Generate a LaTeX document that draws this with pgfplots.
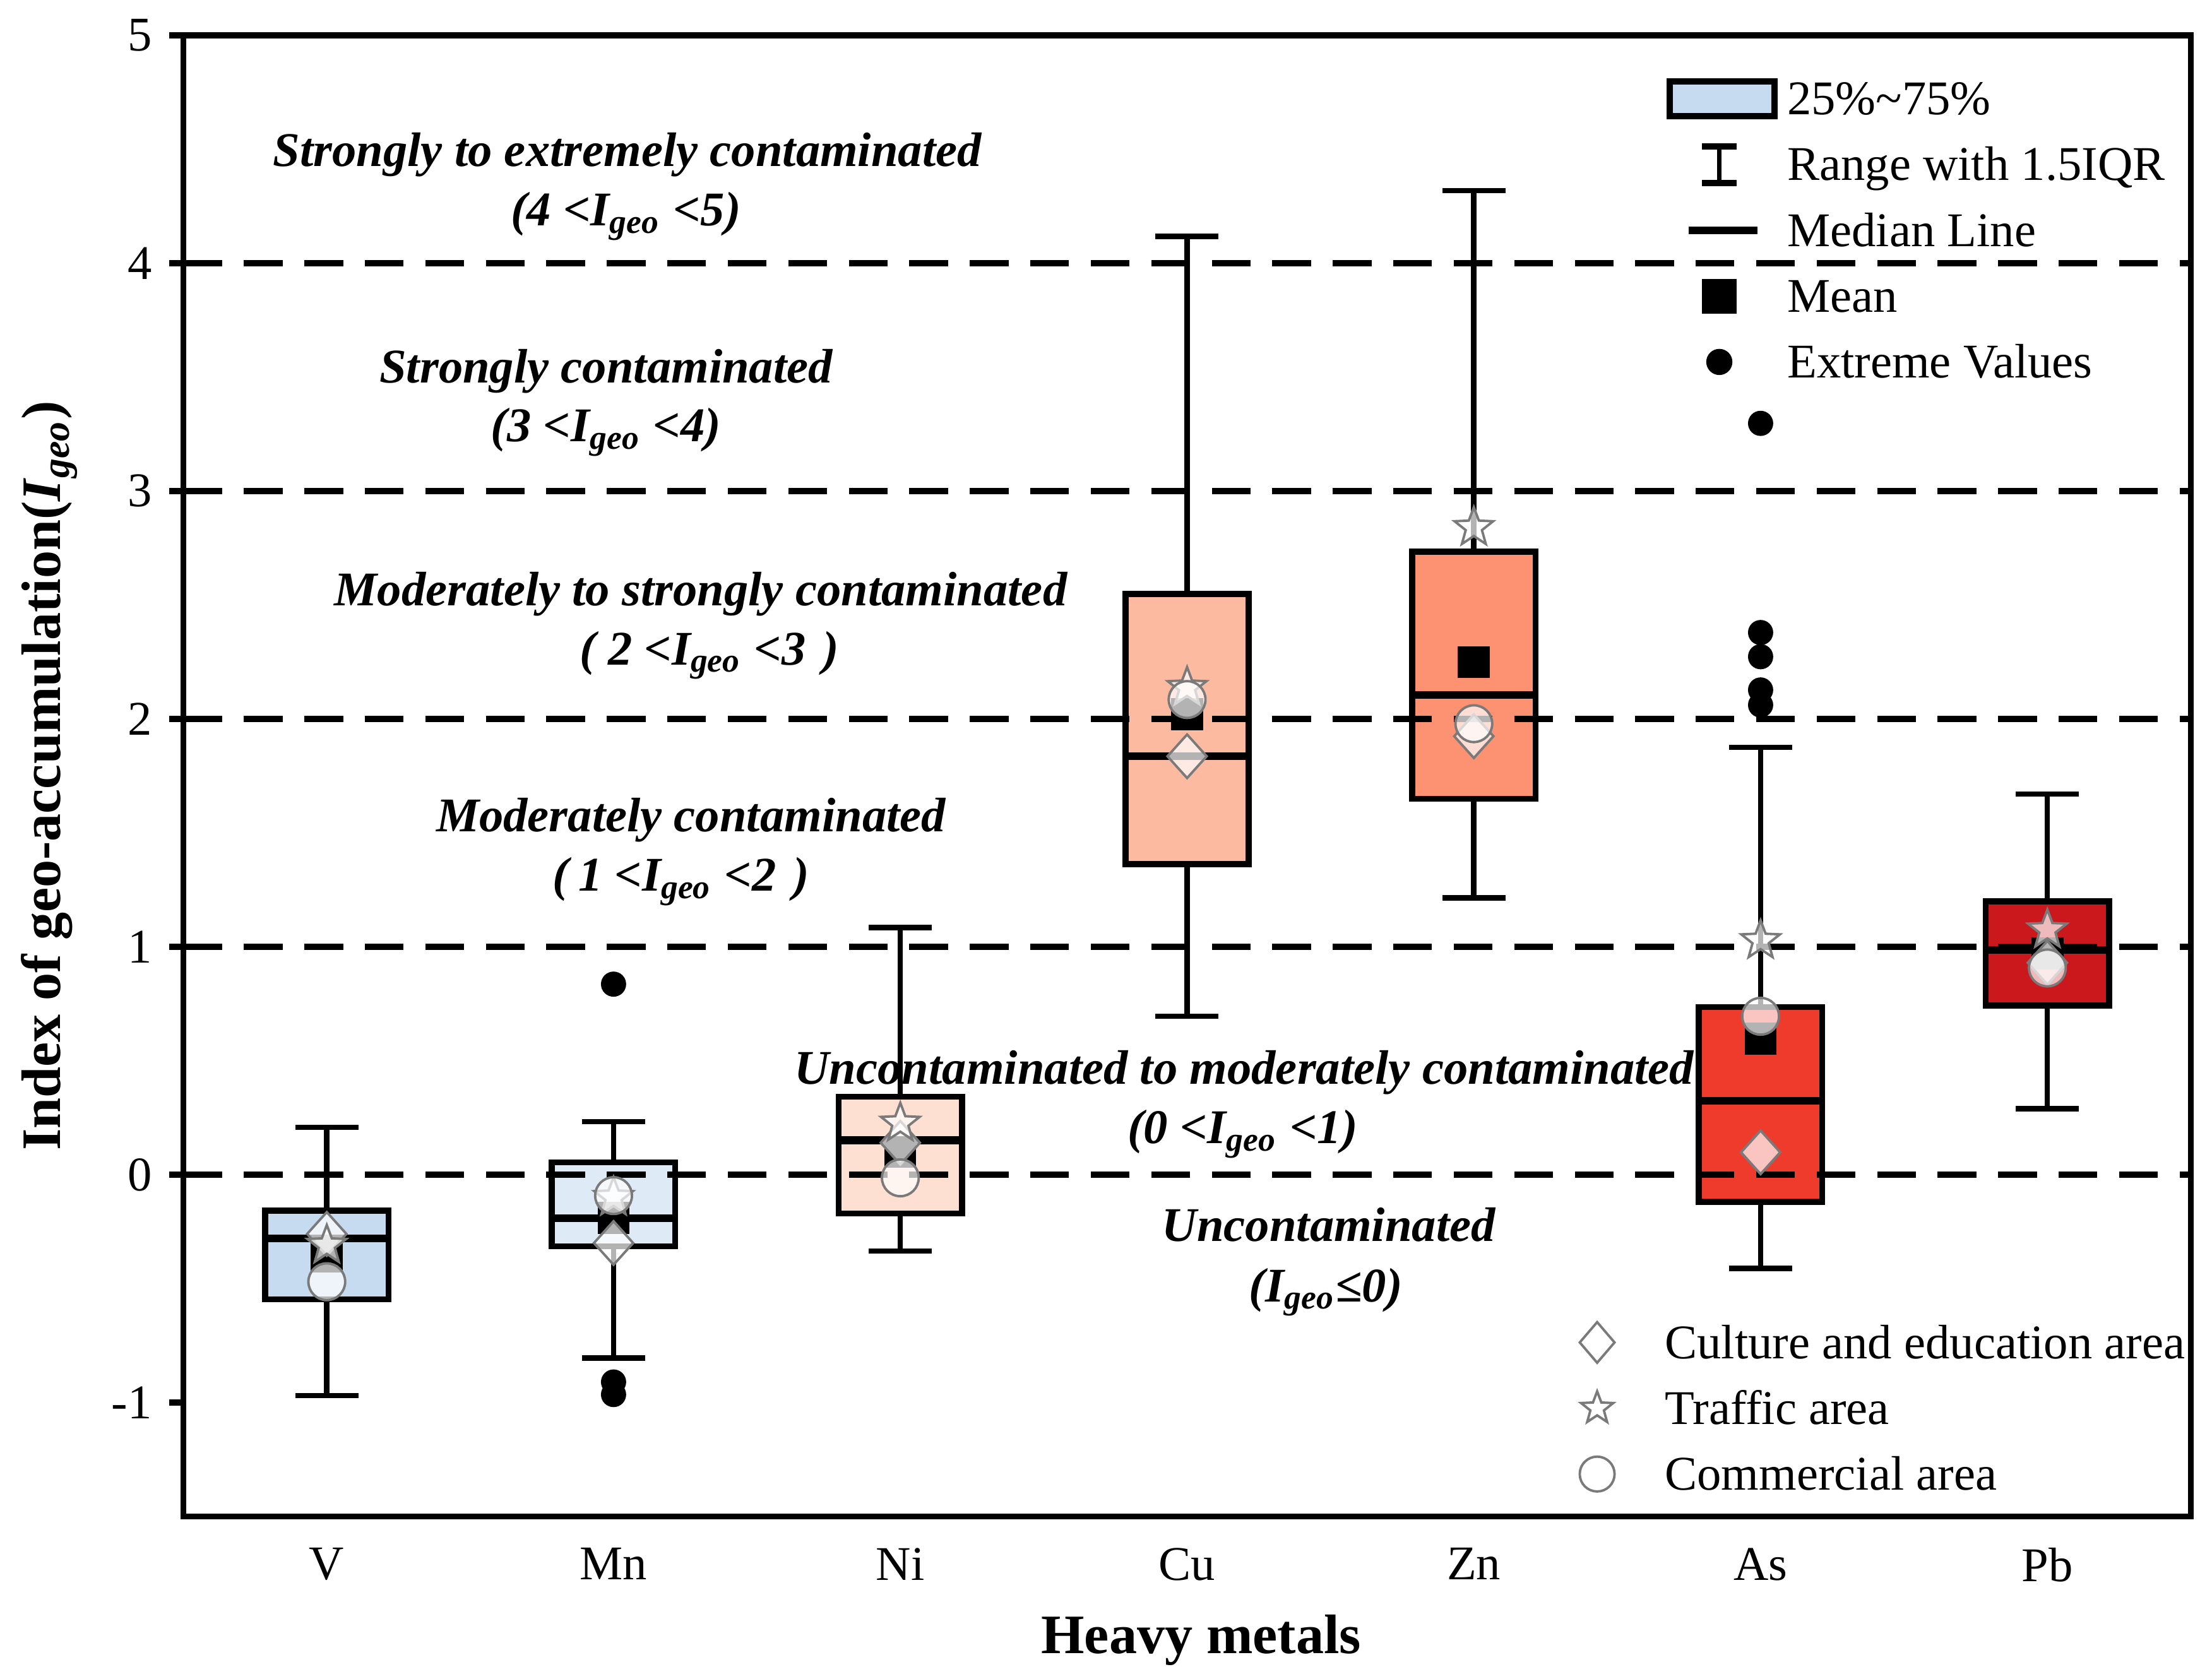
\documentclass[border=0pt]{standalone}
\usepackage{fontspec}
\setmainfont{Liberation Serif}
\usepackage{pgfplots}
\pgfplotsset{compat=1.18}
\usepgfplotslibrary{statistics}

\definecolor{cV}{HTML}{C6DBEF}
\definecolor{cMn}{HTML}{DEEBF7}
\definecolor{cNi}{HTML}{FEE0D2}
\definecolor{cCu}{HTML}{FCBBA1}
\definecolor{cZn}{HTML}{FC9272}
\definecolor{cAs}{HTML}{EF3B2C}
\definecolor{cPb}{HTML}{CB181D}
\definecolor{mkedge}{HTML}{7A7A7A}

\pgfdeclareplotmark{fivestar}{%
  \pgfpathmoveto{\pgfqpointpolar{90}{\pgfplotmarksize}}%
  \pgfpathlineto{\pgfqpointpolar{126}{0.42\pgfplotmarksize}}%
  \pgfpathlineto{\pgfqpointpolar{162}{\pgfplotmarksize}}%
  \pgfpathlineto{\pgfqpointpolar{198}{0.42\pgfplotmarksize}}%
  \pgfpathlineto{\pgfqpointpolar{234}{\pgfplotmarksize}}%
  \pgfpathlineto{\pgfqpointpolar{270}{0.42\pgfplotmarksize}}%
  \pgfpathlineto{\pgfqpointpolar{306}{\pgfplotmarksize}}%
  \pgfpathlineto{\pgfqpointpolar{342}{0.42\pgfplotmarksize}}%
  \pgfpathlineto{\pgfqpointpolar{18}{\pgfplotmarksize}}%
  \pgfpathlineto{\pgfqpointpolar{54}{0.42\pgfplotmarksize}}%
  \pgfpathclose
  \pgfusepathqfillstroke
}

\pgfplotsset{
  geom/.style={
    scale only axis, width=414.8pt, height=306.1pt,
    xmin=-0.5, xmax=6.5, ymin=-1.5, ymax=5,
  },
  bx/.style={forget plot, draw=black, line width=1.25pt, fill=#1},
  dashln/.style={forget plot, black, line width=1.4pt, dash pattern=on 8pt off 4.5pt},
}

\begin{document}
\begin{tikzpicture}
\begin{axis}[
  geom,
  xtick={0,1,2,3,4,5,6},
  xticklabels={V,Mn,Ni,Cu,Zn,As,Pb},
  ytick={-1,0,1,2,3,4,5},
  /pgf/number format/assume math mode=true,
  tick align=outside,
  ytick pos=left,
  xtick style={draw=none},
  ytick style={line width=1.2pt, black},
  major tick length=3pt,
  axis line style={line width=1.2pt, black},
  tick label style={font=\fontsize{10}{12}\selectfont, black},
  xlabel={Heavy metals},
  ylabel={Index of geo-accumulation(\textit{I}\textsubscript{\textit{geo}})},
  every axis x label/.style={at={(axis description cs:0.507,-0.0924)}, anchor=base, font=\fontsize{11.5}{13}\selectfont\bfseries},
  every axis y label/.style={at={(axis description cs:-0.0612,0.5)}, anchor=base, rotate=90, font=\fontsize{11.5}{13}\selectfont\bfseries},
  legend cell align=left,
  legend style={at={(0.739,0.9745)}, anchor=north west, draw=none, fill=none,
    inner sep=0pt, outer sep=0pt, row sep=3pt, column sep=0pt,
    font=\fontsize{10}{12}\selectfont,
    nodes={inner sep=2pt, text height=6.6pt, text depth=0pt}},
  boxplot/draw direction=y,
  boxplot/every median/.style={line width=1.6pt},
  boxplot/every whisker/.style={line width=1.1pt},
  clip=false,
]
\coordinate (axSW) at (rel axis cs:0,0);
\coordinate (axNE) at (rel axis cs:1,1);

% legend entries (first legend)
\addlegendimage{legend image code/.code={
  \path[draw=none,fill=none] (0pt,-5pt) rectangle (21.6pt,5pt);
  \draw[line width=1.3pt, fill=cV] (0pt,-3.6pt) rectangle (21.6pt,3.6pt);}}
\addlegendentry{25\%\textasciitilde75\%}
\addlegendimage{legend image code/.code={
  \path[draw=none,fill=none] (0pt,-5pt) rectangle (21.6pt,5pt);
  \draw[line width=1pt] (10.2pt,-3.8pt) -- (10.2pt,3.8pt);
  \draw[line width=1.3pt] (6.6pt,3.8pt) -- (13.8pt,3.8pt) (6.6pt,-3.8pt) -- (13.8pt,-3.8pt);}}
\addlegendentry{Range with 1.5IQR}
\addlegendimage{legend image code/.code={
  \path[draw=none,fill=none] (0pt,-5pt) rectangle (21.6pt,5pt);
  \draw[line width=1.5pt] (3.8pt,0pt) -- (18.1pt,0pt);}}
\addlegendentry{Median Line}
\addlegendimage{legend image code/.code={
  \path[draw=none,fill=none] (0pt,-5pt) rectangle (21.6pt,5pt);
  \fill[black] (6.8pt,-3.4pt) rectangle (13.6pt,3.4pt);}}
\addlegendentry{Mean}
\addlegendimage{legend image code/.code={
  \path[draw=none,fill=none] (0pt,-5pt) rectangle (21.6pt,5pt);
  \fill[black] (10.2pt,0pt) circle (2.5pt);}}
\addlegendentry{Extreme Values}

% boxes
\addplot[bx=cV, boxplot prepared={draw position=0, lower whisker=-0.970, lower quartile=-0.547, median=-0.280, upper quartile=-0.158, upper whisker=0.208, box extend=0.43, whisker extend=0.22}] coordinates {};
\addplot[bx=cMn, boxplot prepared={draw position=1, lower whisker=-0.805, lower quartile=-0.314, median=-0.191, upper quartile=0.054, upper whisker=0.233, box extend=0.43, whisker extend=0.22}] coordinates {};
\addplot[bx=cNi, boxplot prepared={draw position=2, lower whisker=-0.335, lower quartile=-0.171, median=0.151, upper quartile=0.342, upper whisker=1.084, box extend=0.43, whisker extend=0.22}] coordinates {};
\addplot[bx=cCu, boxplot prepared={draw position=3, lower whisker=0.695, lower quartile=1.363, median=1.836, upper quartile=2.549, upper whisker=4.117, box extend=0.43, whisker extend=0.22}] coordinates {};
\addplot[bx=cZn, boxplot prepared={draw position=4, lower whisker=1.214, lower quartile=1.649, median=2.106, upper quartile=2.734, upper whisker=4.319, box extend=0.43, whisker extend=0.22}] coordinates {};
\addplot[bx=cAs, boxplot prepared={draw position=5, lower whisker=-0.411, lower quartile=-0.119, median=0.324, upper quartile=0.735, upper whisker=1.875, box extend=0.43, whisker extend=0.22}] coordinates {};
\addplot[bx=cPb, boxplot prepared={draw position=6, lower whisker=0.289, lower quartile=0.743, median=0.987, upper quartile=1.199, upper whisker=1.671, box extend=0.43, whisker extend=0.22}] coordinates {};

% contamination class lines
\addplot[dashln] coordinates {(-0.5,0) (6.5,0)};
\addplot[dashln] coordinates {(-0.5,1) (6.5,1)};
\addplot[dashln] coordinates {(-0.5,2) (6.5,2)};
\addplot[dashln] coordinates {(-0.5,3) (6.5,3)};
\addplot[dashln] coordinates {(-0.5,4) (6.5,4)};

% extreme values
\addplot[forget plot, only marks, mark=*, mark size=2.4pt, mark options={fill=black, draw=black}] coordinates {
  (1,0.836) (1,-0.91) (1,-0.965)
  (5,3.297) (5,2.379) (5,2.273) (5,2.127) (5,2.061)};

% means
\addplot[forget plot, only marks, mark=square*, mark size=3.1pt, mark options={fill=black, draw=black}] coordinates {
  (0,-0.36) (1,-0.19) (2,0.10) (3,2.02) (4,2.249) (5,0.597) (6,0.97)};

% annotations
\node[anchor=base, font=\bfseries\itshape] at (axis cs:1.048,4.424) {Strongly to extremely contaminated};
\node[anchor=base, font=\bfseries\itshape] at (axis cs:1.043,4.164) {(4 <I\textsubscript{geo} <5)};
\node[anchor=base, font=\bfseries\itshape] at (axis cs:0.974,3.476) {Strongly contaminated};
\node[anchor=base, font=\bfseries\itshape] at (axis cs:0.974,3.216) {(3 <I\textsubscript{geo} <4)};
\node[anchor=base, font=\bfseries\itshape] at (axis cs:1.304,2.497) {Moderately to strongly contaminated};
\node[anchor=base, font=\bfseries\itshape] at (axis cs:1.334,2.237) {(\hspace{0.25em}2 <I\textsubscript{geo} <3\hspace{0.35em})};
\node[anchor=base, font=\bfseries\itshape] at (axis cs:1.270,1.506) {Moderately contaminated};
\node[anchor=base, font=\bfseries\itshape] at (axis cs:1.235,1.245) {(\hspace{0.2em}1 <I\textsubscript{geo} <2\hspace{0.35em})};
\node[anchor=base, font=\bfseries\itshape] at (axis cs:3.199,0.397) {Uncontaminated to moderately contaminated};
\node[anchor=base, font=\bfseries\itshape] at (axis cs:3.194,0.136) {(0 <I\textsubscript{geo} <1)};
\node[anchor=base, font=\bfseries\itshape] at (axis cs:3.494,-0.291) {Uncontaminated};
\node[anchor=base, font=\bfseries\itshape] at (axis cs:3.484,-0.558) {(I\textsubscript{geo}≤0)};
\end{axis}

\begin{axis}[
  geom,
  hide axis,
  clip=false,
  legend cell align=left,
  legend style={at={(0.685,0.0113)}, anchor=south west, draw=none, fill=none,
    inner sep=0pt, outer sep=0pt, row sep=3pt, column sep=1pt,
    font=\fontsize{10}{12}\selectfont,
    nodes={inner sep=2pt, text height=6.6pt, text depth=0pt}},
]
\addplot[only marks, mark=diamond*, mark size=4.5pt,
  mark options={xscale=1.2, draw=mkedge, fill=white, fill opacity=0.7, line width=0.5pt},
  legend image code/.code={\path[draw=none,fill=none] (0pt,-5pt) rectangle (19pt,5pt);
    \draw[mark=diamond*, mark size=4.2pt, only marks, mark options={xscale=1.14, draw=mkedge, fill=white, line width=0.5pt}] plot coordinates {(8pt,0pt)};}]
  coordinates {(0,-0.26) (1,-0.30) (2,0.14) (3,1.836) (4,1.924) (5,0.098) (6,0.93)};
\addlegendentry{Culture and education area}
\addplot[only marks, mark=fivestar, mark size=4.2pt,
  mark options={draw=mkedge, fill=white, fill opacity=0.7, line width=0.5pt},
  legend image code/.code={\path[draw=none,fill=none] (0pt,-5pt) rectangle (19pt,5pt);
    \draw[mark=fivestar, mark size=3.5pt, only marks, mark options={draw=mkedge, fill=white, line width=0.5pt}] plot coordinates {(8pt,0pt)};}]
  coordinates {(0,-0.31) (1,-0.10) (2,0.226) (3,2.138) (4,2.84) (5,1.027) (6,1.074)};
\addlegendentry{Traffic area}
\addplot[only marks, mark=*, mark size=3.8pt,
  mark options={draw=mkedge, fill=white, fill opacity=0.7, line width=0.5pt},
  legend image code/.code={\path[draw=none,fill=none] (0pt,-5pt) rectangle (19pt,5pt);
    \draw[mark=*, mark size=3.6pt, only marks, mark options={draw=mkedge, fill=white, line width=0.5pt}] plot coordinates {(8pt,0pt)};}]
  coordinates {(0,-0.47) (1,-0.092) (2,-0.014) (3,2.085) (4,1.979) (5,0.695) (6,0.907)};
\addlegendentry{Commercial area}
\end{axis}

\pgfresetboundingbox
\path ([shift={(-37.9pt,-33.5pt)}]axSW) rectangle ([shift={(4.4pt,7.3pt)}]axNE);
\end{tikzpicture}
\end{document}
